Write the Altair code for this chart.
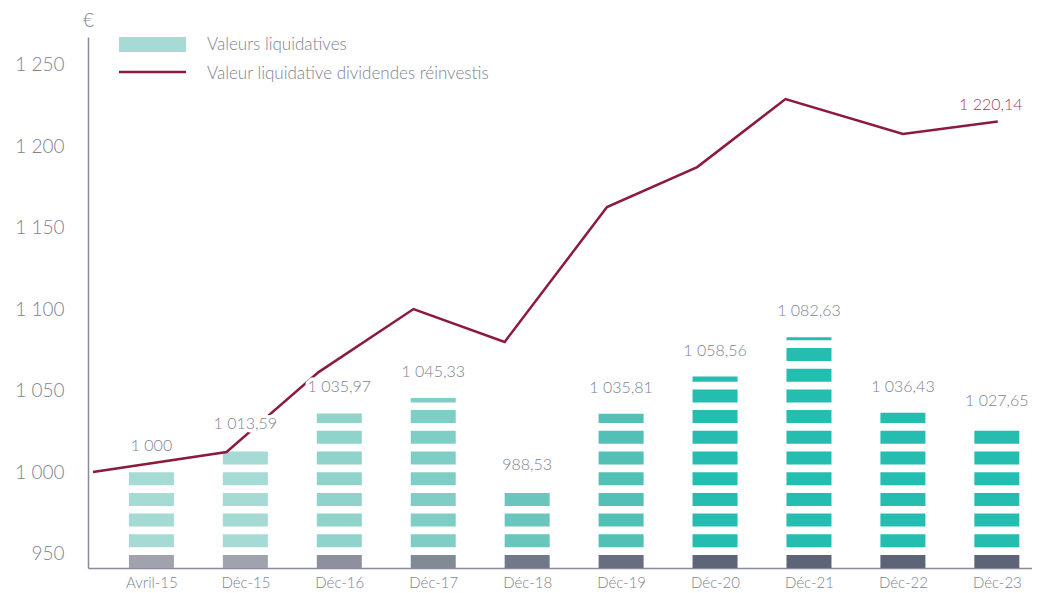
import altair as alt
import pandas as pd

# ---------------- data ----------------
CATEGORIES = ["Avril-15", "Déc-15", "Déc-16", "Déc-17", "Déc-18",
              "Déc-19", "Déc-20", "Déc-21", "Déc-22", "Déc-23"]
NAV_VALUES = [1000.00, 1013.59, 1035.97, 1045.33, 988.53,
              1035.81, 1058.56, 1082.63, 1036.43, 1027.65]
NAV_LABELS = ["1 000", "1 013,59", "1 035,97", "1 045,33", "988,53",
              "1 035,81", "1 058,56", "1 082,63", "1 036,43", "1 027,65"]
# reinvested-dividends line: positions in category-index units, values in €
LINE_POS = [-0.622, 0.80, 1.78, 2.79, 3.76, 4.85, 5.81, 6.75, 8.00, 9.01]
LINE_VALUES = [1000.0, 1012.3, 1061.3, 1100.0, 1079.8, 1162.6, 1187.1, 1228.8, 1207.4, 1215.0]
LINE_END_LABEL = "1 220,14"
Y_TICKS = [950, 1000, 1050, 1100, 1150, 1200, 1250]
LEGEND_LABELS = ["Valeurs liquidatives", "Valeur liquidative dividendes réinvestis"]

# ---------------- styles ----------------
TEAL = ["#a6dad5", "#a6dad5", "#8fd3ca", "#7fcec5", "#68c6bc",
        "#52c0b5", "#25bdb0", "#25bdb0", "#25bdb0", "#25bdb0"]
GRAY = ["#a0a2ad", "#a0a2ad", "#8e909e", "#828b94", "#727789",
        "#686d80", "#5f6578", "#5d6478", "#5d6478", "#5d6478"]
LINE_COLOR = "#8b1a3d"
END_LABEL_COLOR = "#a23a5c"
TEXT_COLOR = "#7e8391"
AXIS_COLOR = "#868c9c"
FONT = "Lato"

Y_MIN, Y_MAX = 941.1, 1266.9
X_MIN, X_MAX = -0.622, 9.321
GRAY_TOP = 949.08          # top of the grey foot of each bar
SEG_START, SEG_STEP, SEG_H = 953.80, 12.70, 7.98   # striped segments (decoration)

# ---------------- build tables ----------------
seg_rows = []
for i, (cat, v) in enumerate(zip(CATEGORIES, NAV_VALUES)):
    seg_rows.append({"idx": i, "lo": Y_MIN, "hi": GRAY_TOP, "color": GRAY[i]})
    k = 0
    while True:
        lo = SEG_START + k * SEG_STEP
        if lo >= v:
            break
        seg_rows.append({"idx": i, "lo": lo, "hi": min(lo + SEG_H, v), "color": TEAL[i]})
        k += 1
seg_df = pd.DataFrame(seg_rows)

bar_df = pd.DataFrame({"idx": list(range(len(CATEGORIES))),
                       "cat": CATEGORIES, "value": NAV_VALUES, "label": NAV_LABELS})
line_df = pd.DataFrame({"pos": LINE_POS, "v": LINE_VALUES})
end_df = pd.DataFrame({"pos": [LINE_POS[-1]], "v": [LINE_VALUES[-1]], "label": [LINE_END_LABEL]})

label_expr = "[" + ",".join("'%s'" % c for c in CATEGORIES) + "][datum.value]"

x_scale = alt.Scale(domain=[X_MIN, X_MAX], nice=False, zero=False)
y_scale = alt.Scale(domain=[Y_MIN, Y_MAX], nice=False, zero=False)

x_axis = alt.Axis(values=list(range(len(CATEGORIES))), labelExpr=label_expr, title=None,
                  ticks=False, grid=False, domainColor=AXIS_COLOR, domainWidth=1.5,
                  labelFont=FONT, labelFontSize=15, labelFontWeight=300,
                  labelColor=TEXT_COLOR, labelPadding=7, labelFlush=False)
y_axis = alt.Axis(values=Y_TICKS, labelExpr="replace(format(datum.value, ','), ',', ' ')",
                  title="€", titleAngle=0, titleX=0, titleY=-17, titleAlign="center",
                  titleBaseline="middle", titleFont=FONT, titleFontSize=19,
                  titleFontWeight=300, titleColor=TEXT_COLOR,
                  ticks=False, grid=False, domainColor=AXIS_COLOR, domainWidth=1.5,
                  labelFont=FONT, labelFontSize=19, labelFontWeight=300,
                  labelColor=TEXT_COLOR, labelPadding=24)


def X(field):
    return alt.X(field, scale=x_scale, axis=x_axis)


def Y(field):
    return alt.Y(field, scale=y_scale, axis=y_axis)


bars = alt.Chart(seg_df).mark_bar(size=45).encode(
    x=X("idx:Q"), y=Y("lo:Q"), y2="hi:Q",
    color=alt.Color("color:N", scale=None),
)

line = alt.Chart(line_df).mark_line(color=LINE_COLOR, strokeWidth=2.5).encode(
    x=X("pos:Q"), y=Y("v:Q"), order="pos:Q"
)

text_style = dict(dy=-26, baseline="middle", align="center", font=FONT, fontSize=16,
                  fontWeight=300)
value_halo = alt.Chart(bar_df).mark_text(
    color="white", stroke="white", strokeWidth=7, strokeJoin="round", **text_style
).encode(x=X("idx:Q"), y=Y("value:Q"), text="label:N")
value_labels = alt.Chart(bar_df).mark_text(color=TEXT_COLOR, **text_style).encode(
    x=X("idx:Q"), y=Y("value:Q"), text="label:N")

end_label = alt.Chart(end_df).mark_text(
    dx=-7, dy=-17, baseline="middle", align="center", font=FONT, fontSize=16,
    fontWeight=300, color=END_LABEL_COLOR
).encode(x=X("pos:Q"), y=Y("v:Q"), text="label:N")

# ---------------- legend (drawn by hand) ----------------
leg_rect = alt.Chart(pd.DataFrame({"k": [0]})).mark_rect(color=TEAL[0]).encode(
    x=alt.value(31), x2=alt.value(98), y=alt.value(0), y2=alt.value(15)
)
leg_rule = alt.Chart(pd.DataFrame({"k": [0]})).mark_rule(color=LINE_COLOR, strokeWidth=2.5).encode(
    x=alt.value(31), x2=alt.value(98), y=alt.value(35)
)
leg_text1 = alt.Chart(pd.DataFrame({"t": [LEGEND_LABELS[0]]})).mark_text(
    align="left", baseline="middle", font=FONT, fontSize=17, fontWeight=300, color=TEXT_COLOR
).encode(x=alt.value(119), y=alt.value(8), text="t:N")
leg_text2 = alt.Chart(pd.DataFrame({"t": [LEGEND_LABELS[1]]})).mark_text(
    align="left", baseline="middle", font=FONT, fontSize=17, fontWeight=300, color=TEXT_COLOR
).encode(x=alt.value(119), y=alt.value(37), text="t:N")

chart = alt.layer(
    bars, line, value_halo, value_labels, end_label, leg_rect, leg_rule, leg_text1, leg_text2
).properties(
    width=944, height=531,
    autosize=alt.AutoSizeParams(type="none"),
    padding={"left": 80, "top": 29, "right": 0, "bottom": 22},
).configure(background="white").configure_view(stroke=None)

chart.save("out.html", embed_options={"renderer": "svg", "actions": False})
